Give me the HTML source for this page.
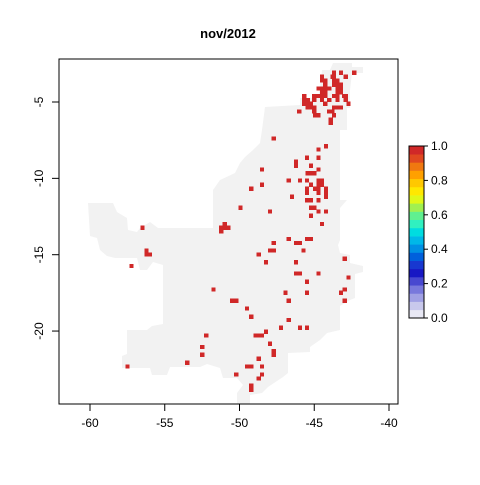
<!DOCTYPE html>
<html><head><meta charset="utf-8"><style>
body{margin:0;background:#fff;}
svg text{font-family:"Liberation Sans",Arial,sans-serif;}
</style></head><body>
<svg id="chart" width="480" height="480" xmlns="http://www.w3.org/2000/svg">
<rect width="480" height="480" fill="#fff"/>
<text x="228" y="38" text-anchor="middle" font-size="13" font-weight="bold">nov/2012</text>
<polygon fill="#f2f2f2" points="333,63 352,63 352,67 363,67 363,73 352,73 350,90 350,108 347,108 347,130 340,130 340,200 347,200 340,208 340,240 338,245 340,253 350,255 350,263 363,266 363,272 355,274 355,298 350,300 340,306 340,330 327,333 320,340 310,347 310,352 288,353 288,373 283,377 268,387 262,393 250,395 250,404 237,404 237,393 243,385 237,378 223,378 220,368 207,364 200,367 170,367 167,375 152,375 150,368 122,368 122,356 127,354 127,330 147,330 152,326 163,324 163,265 153,262 147,270 140,270 137,258 115,258 107,256 100,250 97,238 90,236 88,203 113,203 117,212 127,218 128,230 137,232 140,228 150,222 158,228 213,228 213,190 220,180 235,173 240,163 245,157 253,150 260,143 262,130 265,107 300,105 300,98 318,98 320,88 322,70 330,70"/>
<g id="cells" shape-rendering="crispEdges"></g>
<rect x="59" y="59" width="339" height="345" fill="none" stroke="#000" stroke-width="1"/>
<g id="axes"></g>
<g id="legend"></g>
</svg>
<script>
const cellLon=[-43.67,-43.22,-42.33,-44.49,-43.78,-43.67,-42.89,-44.49,-44.27,-43.67,-43.44,-44.27,-43.67,-43.44,-43.22,-44.71,-44.49,-44.27,-44.0,-43.44,-43.22,-44.49,-44.27,-43.44,-43.22,-45.67,-45.0,-44.71,-44.49,-44.27,-43.67,-43.44,-43.0,-42.89,-45.67,-45.44,-45.0,-44.49,-44.0,-43.44,-42.89,-45.67,-45.44,-45.22,-44.27,-42.71,-45.44,-45.22,-45.0,-43.67,-43.44,-43.22,-46.0,-45.0,-44.0,-43.78,-44.93,-44.71,-43.67,-43.89,-43.89,
-47.71,-44.22,-44.71,-45.49,-44.71,-46.22,-46.22,-45.22,-48.49,-44.71,-45.44,-45.22,-45.0,-46.71,-45.96,-45.49,-44.71,-44.49,-45.22,-44.71,-44.49,-48.49,-49.22,-45.49,-44.93,-44.71,-44.22,-45.49,-44.71,-44.22,-46.49,-44.22,-45.49,-45.22,-44.71,-49.93,-45.22,-45.0,-47.96,-44.71,-44.22,-45.22,
-44.49,-56.49,-50.98,-51.22,-50.98,-50.73,-51.22,-46.71,-46.22,-45.96,-45.49,-45.22,-47.71,-47.96,-47.71,-45.71,-56.22,-56.22,-56.0,-48.71,-42.96,-48.22,-46.22,-57.22,-46.22,-45.96,-44.71,-42.71,-45.49,-42.96,-51.73,-46.93,-45.49,-43.22,-46.71,-50.49,-50.22,-42.96,-49.49,-49.22,-46.71,-47.22,-45.96,-45.49,-48.22,-52.22,-48.93,-48.71,-48.49,-47.96,-52.49,-47.71,-47.71,-52.49,-48.71,-53.49,-57.49,-49.49,-49.22,-48.49,-50.22,-48.49,-48.71,-49.22,-49.22];
const cellLat=[-3.08,-3.08,-3.08,-3.34,-3.34,-3.34,-3.34,-3.60,-3.60,-3.60,-3.60,-3.87,-3.87,-3.87,-3.87,-4.11,-4.11,-4.11,-4.11,-4.11,-4.11,-4.37,-4.37,-4.37,-4.37,-4.61,-4.61,-4.61,-4.61,-4.61,-4.61,-4.61,-4.61,-4.61,-4.87,-4.87,-4.87,-4.87,-4.87,-4.87,-4.87,-5.11,-5.11,-5.11,-5.11,-5.11,-5.37,-5.37,-5.37,-5.37,-5.37,-5.37,-5.63,-5.63,-5.63,-5.63,-5.87,-5.87,-5.87,-6.14,-6.38,
-7.40,-7.90,-8.12,-8.65,-8.65,-8.91,-9.17,-9.17,-9.43,-9.43,-9.67,-9.67,-9.67,-10.15,-10.15,-10.15,-10.15,-10.15,-10.42,-10.42,-10.42,-10.42,-10.68,-10.68,-10.68,-10.68,-10.68,-10.94,-10.94,-10.94,-11.20,-11.20,-11.44,-11.44,-11.44,-11.92,-11.92,-11.92,-12.18,-12.18,-12.18,-12.45,
-12.99,-13.23,-12.99,-13.23,-13.23,-13.23,-13.47,-13.97,-14.23,-14.23,-13.97,-13.97,-14.23,-14.73,-14.73,-14.73,-14.73,-14.98,-14.98,-14.98,-15.26,-15.50,-15.50,-15.74,-16.24,-16.24,-16.24,-16.50,-16.77,-17.27,-17.27,-17.49,-17.49,-17.49,-18.01,-18.01,-18.01,-18.01,-18.53,-19.06,-19.28,-19.78,-19.78,-19.78,-20.04,-20.30,-20.30,-20.30,-20.30,-20.83,-21.05,-21.31,-21.55,-21.55,-21.81,-22.07,-22.33,-22.33,-22.33,-22.33,-22.84,-22.84,-23.10,-23.58,-23.84];
const xTicks=[-60,-55,-50,-45,-40];
const yTicks=[-5,-10,-15,-20];
const legendTicks=[0.0,0.2,0.4,0.6,0.8,1.0];
const legendColors=["#e8e8f4","#c8c8ec","#a0a0e4","#7878dc","#4848d0","#1818c4","#1838d0","#0060dc","#0090e4","#00b8e8","#00dce0","#30f0c0","#60f090","#a0f050","#e0f818","#ffe800","#ffc800","#ffa000","#f07810","#e04820","#d02828"];
const NS="http://www.w3.org/2000/svg";
function xs(lon){return 90+(lon+60)*14.95;}
function ys(lat){return 102+(-5-lat)*15.27;}
const cg=document.getElementById('cells');
for(let i=0;i<cellLon.length;i++){
  const r=document.createElementNS(NS,'rect');
  const w=4.2,h=4.2;
  r.setAttribute('x',(xs(cellLon[i])-w/2).toFixed(1));
  r.setAttribute('y',(ys(cellLat[i])-h/2).toFixed(1));
  r.setAttribute('width',w);r.setAttribute('height',h);
  r.setAttribute('fill','#d02828');
  
  
  cg.appendChild(r);
}
const ax=document.getElementById('axes');
xTicks.forEach(v=>{
  const x=xs(v);
  const l=document.createElementNS(NS,'line');
  l.setAttribute('x1',x);l.setAttribute('x2',x);l.setAttribute('y1',404);l.setAttribute('y2',411);l.setAttribute('stroke','#000');
  
  
  ax.appendChild(l);
  const t=document.createElementNS(NS,'text');
  t.setAttribute('x',x);t.setAttribute('y',427);t.setAttribute('text-anchor','middle');t.setAttribute('font-size','12');
  t.textContent=v;
  
  
  ax.appendChild(t);
});
yTicks.forEach(v=>{
  const y=ys(v);
  const l=document.createElementNS(NS,'line');
  l.setAttribute('x1',52);l.setAttribute('x2',59);l.setAttribute('y1',y);l.setAttribute('y2',y);l.setAttribute('stroke','#000');
  
  
  ax.appendChild(l);
  const t=document.createElementNS(NS,'text');
  t.setAttribute('x',43);t.setAttribute('y',y);t.setAttribute('text-anchor','middle');t.setAttribute('font-size','12');
  t.setAttribute('transform','rotate(-90 43 '+y+')');
  t.textContent=v;
  
  
  ax.appendChild(t);
});
const lg=document.getElementById('legend');
const ly0=318,ly1=146,n=legendColors.length,sh=(ly0-ly1)/n;
legendColors.forEach((c,i)=>{
  const r=document.createElementNS(NS,'rect');
  r.setAttribute('x',409);r.setAttribute('y',(ly0-(i+1)*sh).toFixed(2));r.setAttribute('width',15);r.setAttribute('height',(sh+0.3).toFixed(2));r.setAttribute('fill',c);
  
  
  lg.appendChild(r);
});
const fr=document.createElementNS(NS,'rect');
fr.setAttribute('x',409);fr.setAttribute('y',ly1);fr.setAttribute('width',15);fr.setAttribute('height',ly0-ly1);fr.setAttribute('fill','none');fr.setAttribute('stroke','#000');


lg.appendChild(fr);
legendTicks.forEach(v=>{
  const y=ly0-v*(ly0-ly1);
  const l=document.createElementNS(NS,'line');
  l.setAttribute('x1',424);l.setAttribute('x2',428);l.setAttribute('y1',y);l.setAttribute('y2',y);l.setAttribute('stroke','#000');
  
  
  lg.appendChild(l);
  const t=document.createElementNS(NS,'text');
  t.setAttribute('x',431);t.setAttribute('y',y+4);t.setAttribute('font-size','12');
  t.textContent=v.toFixed(1);
  
  
  lg.appendChild(t);
});
</script>
</body></html>
